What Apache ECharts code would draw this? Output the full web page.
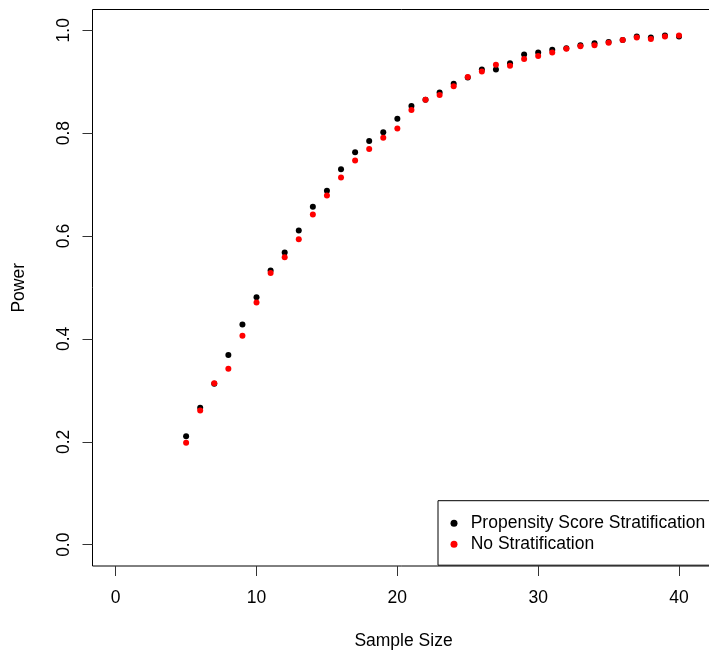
<!DOCTYPE html>
<html>
<head>
<meta charset="utf-8">
<script src="https://cdn.jsdelivr.net/npm/echarts@6/dist/echarts.min.js"></script>
<style>html,body{margin:0;padding:0;background:#fff;}#c{width:709px;height:651px;}</style>
</head>
<body>
<div id="c"></div>
<script>
var sampleSize = [5,6,7,8,9,10,11,12,13,14,15,16,17,18,19,20,21,22,23,24,25,26,27,28,29,30,31,32,33,34,35,36,37,38,39,40];
var powerPSS = [0.211,0.266,0.313,0.369,0.428,0.481,0.533,0.568,0.611,0.657,0.688,0.730,0.763,0.785,0.802,0.828,0.853,0.865,0.879,0.896,0.908,0.924,0.924,0.936,0.953,0.957,0.962,0.965,0.971,0.975,0.977,0.981,0.988,0.986,0.990,0.988];
var powerNoStrat = [0.198,0.261,0.314,0.342,0.406,0.471,0.528,0.559,0.594,0.642,0.679,0.714,0.747,0.769,0.791,0.809,0.845,0.865,0.874,0.891,0.909,0.920,0.933,0.931,0.944,0.950,0.957,0.964,0.969,0.971,0.976,0.981,0.986,0.983,0.988,0.990];
var seriesNames = ['Propensity Score Stratification', 'No Stratification'];
var xTicks = [0, 10, 20, 30, 40];
var yTicks = [0, 0.2, 0.4, 0.6, 0.8, 1.0];
var xTitle = 'Sample Size';
var yTitle = 'Power';

function pairs(xs, ys){ return xs.map(function(x,i){ return [x, ys[i]]; }); }

var FONT = 'Liberation Sans, Arial, sans-serif';
var chart = echarts.init(document.getElementById('c'), null, {renderer:'canvas'});
chart.setOption({
  animation: false,
  backgroundColor: '#fff',
  grid: {left: 92.5, top: 9.5, width: 622, height: 556.5, show: true, borderColor: '#000', borderWidth: 1,
    backgroundColor: 'transparent', containLabel: false, outerBoundsMode: 'none'},
  xAxis: {type: 'value', min: -1.647, max: 42.52, position: 'bottom',
     axisLine: {show: false, onZero: false}, splitLine: {show: false},
     axisTick: {show: true, length: 10, inside: false, customValues: xTicks, lineStyle: {color: '#333', width: 1}},
     axisLabel: {margin: 23.5, color: '#000', fontSize: 17.5, fontFamily: FONT, customValues: xTicks},
     name: xTitle, nameLocation: 'middle', nameGap: 66.5,
     nameTextStyle: {color: '#000', fontSize: 17.5, fontFamily: FONT}},
  yAxis: {type: 'value', min: -0.0414, max: 1.0404, position: 'left',
     axisLine: {show: false, onZero: false}, splitLine: {show: false},
     axisTick: {show: true, length: 10, inside: false, customValues: yTicks, lineStyle: {color: '#333', width: 1}},
     axisLabel: {margin: 19, rotate: 90, color: '#000', fontSize: 17.5, fontFamily: FONT, customValues: yTicks,
       formatter: function(v){ return v.toFixed(1); }},
     name: yTitle, nameLocation: 'middle', nameGap: 64, nameRotate: 90,
     nameTextStyle: {color: '#000', fontSize: 17.5, fontFamily: FONT}},
  legend: {
    show: true, orient: 'vertical', left: 438, top: 500.7,
    padding: [12, 30, 10.5, 12.5], itemGap: 0, itemWidth: 23.4, itemHeight: 7,
    borderColor: '#000', borderWidth: 1, backgroundColor: '#fff',
    icon: 'circle',
    textStyle: {color: '#000', fontSize: 17.5, fontFamily: FONT, lineHeight: 21},
    data: seriesNames
  },
  series: [
    {name: seriesNames[0], type: 'scatter', symbol: 'circle', symbolSize: 6,
     itemStyle: {color: '#000', opacity: 1}, data: pairs(sampleSize, powerPSS), z: 2},
    {name: seriesNames[1], type: 'scatter', symbol: 'circle', symbolSize: 6,
     itemStyle: {color: '#ff0000', opacity: 1}, data: pairs(sampleSize, powerNoStrat), z: 3}
  ]
});
</script>
</body>
</html>
